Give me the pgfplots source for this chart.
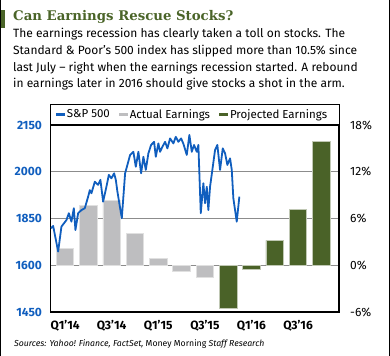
\documentclass[border=0pt]{standalone}
\usepackage{pgfplots}
\pgfplotsset{compat=1.18}
\usepackage{fontspec}
\setmainfont{Fira Sans}
\newfontfamily\titlefont{DejaVu Serif}
\definecolor{spblue}{RGB}{16,94,190}
\definecolor{actgrey}{RGB}{190,190,192}
\definecolor{projgreen}{RGB}{74,98,40}
\definecolor{titlegreen}{RGB}{74,100,40}
\begin{document}
\begin{tikzpicture}
\path[use as bounding box] (0bp,0bp) rectangle (390bp,356bp);
% frame lines
\draw[black, line width=1.2bp] (0.6bp,0bp) -- (0.6bp,356bp);
\draw[black, line width=1.2bp] (389.4bp,0bp) -- (389.4bp,356bp);
% title bar
\fill[titlegreen] (1bp,328bp) rectangle (5bp,346bp);
\node[anchor=base west, inner sep=0pt] at (13bp,335.3bp) {\titlefont\bfseries\fontsize{13.3bp}{16bp}\selectfont\color{titlegreen}Can Earnings Rescue Stocks?};
\begin{scope}[every node/.style={anchor=base west, inner sep=0pt, font=\fontsize{12bp}{14bp}\selectfont}]
\node at (13bp,318.3bp) {The earnings recession has clearly taken a toll on stocks. The};
\node at (13bp,301.5bp) {Standard \& Poor’s 500 index has slipped more than 10.5\% since};
\node at (13bp,284.7bp) {last July – right when the earnings recession started. A rebound};
\node at (13bp,268bp) {in earnings later in 2016 should give stocks a shot in the arm.};
\end{scope}
\node[anchor=base west, inner sep=0pt, font=\fontsize{8.7bp}{10bp}\selectfont] at (14bp,10bp) {\itshape Sources: Yahoo! Finance, FactSet, \upshape Money Morning \itshape Staff Research};

\begin{axis}[at={(50.7bp,44bp)}, anchor=south west, scale only axis,
  width=288.3bp, height=187bp,
  xmin=-0.62, xmax=11.76, ymin=-6, ymax=18,
  ytick={-6,0,6,12,18}, yticklabels={-6\%,0\%,6\%,12\%,18\%},
  yticklabel pos=right,
  ymajorgrids, grid style={draw=black!45, line width=0.9bp},
  xtick={0,2,4,6,8,10},
  xticklabels={Q1’14,Q3’14,Q1’15,Q3’15,Q1’16,Q3’16},
  major tick length=0pt,
  axis line style={black, line width=1.2bp},
  yticklabel style={anchor=west, inner sep=0pt, xshift=11bp, font=\fontsize{12bp}{12bp}\selectfont},
  xticklabel style={anchor=north, inner sep=0pt, yshift=-8bp, font=\bfseries\fontsize{12bp}{12bp}\selectfont},
  legend columns=3,
  legend style={at={(0,1)}, anchor=south west, xshift=2bp, yshift=1bp, draw=none, fill=none,
    font=\fontsize{11.5bp}{12bp}\selectfont, /tikz/every even column/.append style={column sep=7bp}},
  legend image code/.code={\fill (0bp,-1.6bp) rectangle (9bp,1.6bp);},
  ]
\addplot[ybar, bar width=17.5bp, bar shift=0pt, fill=actgrey, draw=white!88!black, line width=0.8bp, forget plot]
  coordinates {(0,2.1) (1,7.65) (2,8.3) (3,4.1) (4,0.9) (5,-0.8) (6,-1.5)};
\addplot[ybar, bar width=17.5bp, bar shift=0pt, fill=projgreen, draw=projgreen!35!white, line width=0.8bp, forget plot]
  coordinates {(7,-5.6) (8,-0.5) (9,3.2) (10,7.2) (11,15.9)};
\addlegendimage{fill=spblue, draw=none}
\addlegendentry{S\&P 500}
\addlegendimage{fill=actgrey, draw=none}
\addlegendentry{Actual Earnings}
\addlegendimage{fill=projgreen, draw=none}
\addlegendentry{Projected Earnings}
\end{axis}

\begin{axis}[at={(50.7bp,44bp)}, anchor=south west, scale only axis,
  width=288.3bp, height=187bp,
  xmin=-0.62, xmax=11.76, ymin=1550, ymax=2150,
  ytick={1550,1700,1850,2000,2150}, yticklabels={1450,1600,1850,2000,2150},
  xtick=\empty, major tick length=0pt,
  axis line style={draw=none},
  yticklabel style={anchor=east, inner sep=0pt, xshift=-8.5bp, text=spblue, font=\bfseries\fontsize{12bp}{12bp}\selectfont},
  ]
\addplot[spblue, line width=1.8bp, line join=round] coordinates {
(-0.614,1819) (-0.515,1826) (-0.300,1744) (-0.159,1824) (0.056,1845) (0.159,1867)
(0.270,1840) (0.373,1883) (0.442,1813) (0.558,1867) (0.700,1877) (0.845,1883)
(0.987,1920) (1.060,1941) (1.129,1931) (1.275,1968) (1.416,1958) (1.515,1974)
(1.631,1904) (1.773,1952) (1.876,1990) (1.987,1979) (2.103,1995) (2.176,1974)
(2.245,1936) (2.433,1851) (2.575,1995) (2.790,2054) (2.931,2064) (3.034,2016)
(3.146,2064) (3.262,1995) (3.361,2048) (3.464,2006) (3.575,2059) (3.691,2086)
(3.820,2096) (3.893,2048) (4.004,2091) (4.077,2064) (4.176,2080) (4.292,2096)
(4.391,2075) (4.506,2107) (4.648,2091) (4.751,2112) (4.863,2096) (4.979,2107)
(5.077,2090) (5.223,2054) (5.335,2118) (5.438,2064) (5.536,2086) (5.652,2064)
(5.721,2086) (5.764,1995) (5.824,1867) (5.936,1963) (6.009,1899) (6.082,1952)
(6.150,1877) (6.223,1952) (6.322,2006) (6.438,2070) (6.536,2086) (6.652,2006)
(6.768,2075) (6.867,2059) (6.966,2022) (7.082,2043) (7.155,2006) (7.223,1915)
(7.369,1840) (7.481,1920)};
\end{axis}
% legend frame
\draw[black, line width=1bp] (50.7bp,231bp) rectangle (339bp,251bp);
\end{tikzpicture}
\end{document}
